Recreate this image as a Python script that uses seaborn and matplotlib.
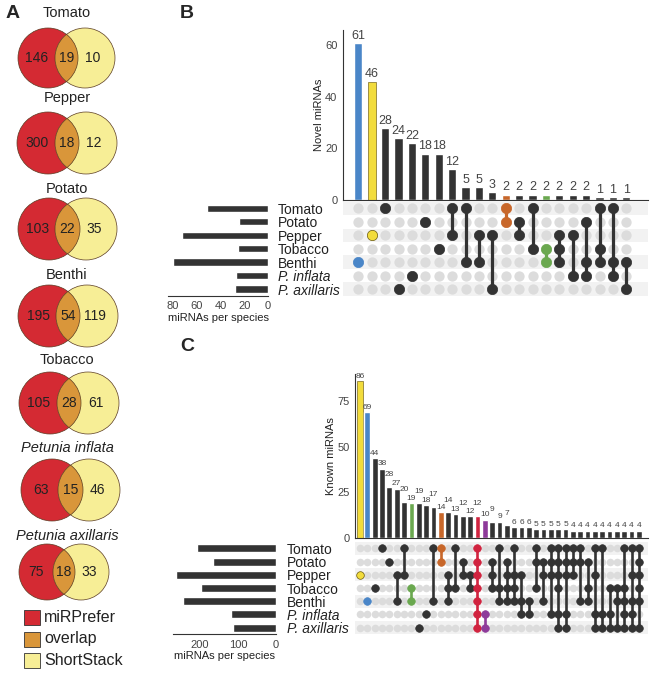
import numpy as np
import pandas as pd
import matplotlib
matplotlib.use("Agg")
import matplotlib.pyplot as plt
import seaborn as sns
from matplotlib.patches import Ellipse, Rectangle

sns.set_style("white")
plt.rcParams["font.family"] = ["Liberation Sans", "DejaVu Sans"]

W, H = 650, 674
DARK = "#333333"
TXT = "#222222"
RED = "#d42a33"
ORANGE = "#d9963a"
YELLOW = "#f7ee96"
EDGE = "#5a3b22"
INACTIVE = "#dcdcdc"
BAND = "#f2f2f2"
C_BLUE = "#4a86c8"
C_YEL = "#f2dc3c"
C_ORA = "#c8672a"
C_GRN = "#6aa84f"
C_RED = "#d1233f"
C_PUR = "#8e3a9a"

# ---- panel A data ----
venn_species = ["Tomato", "Pepper", "Potato", "Benthi", "Tobacco",
                "Petunia inflata", "Petunia axillaris"]
venn_mirprefer = [146, 300, 103, 195, 105, 63, 75]
venn_overlap = [19, 18, 22, 54, 28, 15, 18]
venn_shortstack = [10, 12, 35, 119, 61, 46, 33]
legend_labels = ["miRPrefer", "overlap", "ShortStack"]

# ---- upset data (rows) ----
species = ["Tomato", "Potato", "Pepper", "Tobacco", "Benthi",
           "P. inflata", "P. axillaris"]

# panel B: novel miRNAs
novel_counts = [61, 46, 28, 24, 22, 18, 18, 12, 5, 5, 3, 2, 2, 2, 2, 2, 2, 2, 1, 1, 1]
novel_sets = [[4], [2], [0], [6], [5], [1], [3], [0, 2], [0, 4], [2, 4], [2, 6],
              [0, 1], [1, 2], [0, 3], [3, 4], [2, 3, 4], [2, 5], [1, 4, 5],
              [0, 3, 4], [0, 4, 5], [4, 6]]
novel_colors = {0: C_BLUE, 1: C_YEL, 11: C_ORA, 14: C_GRN}
novel_per_species = [51, 24, 72, 25, 80, 27, 28]

# panel C: known miRNAs
known_counts = [86, 69, 44, 38, 28, 27, 20, 19, 19, 18, 17, 14, 14, 13, 12, 12, 12,
                10, 9, 9, 7, 6, 6, 6, 5, 5, 5, 5, 5, 4, 4, 4, 4, 4, 4, 4, 4, 4, 4]
known_sets = [[2], [4], [3], [0], [1], [2, 4], [0, 2], [3, 4], [6], [5], [0, 4],
              [0, 1], [2, 3, 4], [0, 3], [1, 2], [2, 3], [0, 1, 2, 3, 4, 5, 6], [5, 6],
              [1, 2, 3], [0, 3, 4], [1, 2, 3, 4], [0, 2, 3, 4], [2, 4, 5], [4, 5],
              [0, 1, 3], [1, 2, 4], [0, 1, 2, 5], [0, 1, 2, 3, 5, 6],
              [0, 1, 2, 5, 6], [0, 1, 2], [0, 1, 4], [1, 3, 4],
              [0, 2, 5, 6], [0, 5, 6], [3, 5, 6], [3, 4, 6],
              [0, 3, 4, 5, 6], [0, 2, 4, 5, 6], [0, 1, 2, 3, 4, 6]]
known_colors = {0: C_YEL, 1: C_BLUE, 7: C_GRN, 11: C_ORA, 16: C_RED, 17: C_PUR}
known_per_species = [209, 167, 262, 198, 246, 118, 114]


def px_axes(fig, x0, y0, w, h):
    return fig.add_axes([x0 / W, 1 - (y0 + h) / H, w / W, h / H])


def draw_bars(ax, counts, colors, width, fs, ymax, ticks, ylabel, lift=None):
    df = pd.DataFrame({"col": [str(i) for i in range(len(counts))], "n": counts})
    sns.barplot(data=df, x="col", y="n", color=DARK, saturation=1, width=width, ax=ax)
    for i, p in enumerate(ax.patches):
        c = colors.get(i, DARK)
        p.set_facecolor(c)
        if c == C_YEL:
            p.set_edgecolor("#7a6a20")
            p.set_linewidth(0.5)
    for i, v in enumerate(counts):
        up = ymax * 0.008
        if lift is not None and lift(i):
            up += ymax * 0.045
        ax.text(i, v + up, str(v), ha="center", va="bottom",
                fontsize=fs, color="#444444")
    ax.set_ylim(0, ymax)
    ax.set_yticks(ticks)
    ax.set_xticks([])
    ax.set_xlabel("")
    ax.set_ylabel(ylabel, fontsize=8, color=TXT, labelpad=1)
    ax.tick_params(axis="y", labelsize=8, colors="#444444", length=3, pad=1)
    sns.despine(ax=ax, top=True, right=True)
    for s in ["left", "bottom"]:
        ax.spines[s].set_color(DARK)
        ax.spines[s].set_linewidth(0.8)


def draw_matrix(ax, sets, colors, size, lw):
    ncol = len(sets)
    nrow = len(species)
    for r in range(0, nrow, 2):
        ax.axhspan(r - 0.5, r + 0.5, color=BAND, zorder=0, lw=0)
    xx, yy = np.meshgrid(np.arange(ncol), np.arange(nrow))
    ax.scatter(xx.ravel(), yy.ravel(), s=size, color=INACTIVE, lw=0, zorder=1)
    for j, rows in enumerate(sets):
        c = colors.get(j, DARK)
        if len(rows) > 1:
            ax.vlines(j, min(rows), max(rows), color=c, lw=lw, zorder=2)
        ec = "#6a5a10" if c == C_YEL else c
        ax.scatter([j] * len(rows), rows, s=size, color=c, edgecolors=ec,
                   linewidths=0.5, zorder=3)
    ax.set_ylim(nrow - 0.5, -0.5)
    ax.axis("off")


def draw_species_bars(ax, totals, xmax, ticks, label_pad, height):
    df = pd.DataFrame({"sp": species, "n": totals})
    sns.barplot(data=df, x="n", y="sp", orient="h", color=DARK, saturation=1,
                width=height, ax=ax)
    ax.set_xlim(xmax, 0)
    ax.set_ylim(len(species) - 0.5, -0.5)
    ax.set_xticks(ticks)
    ax.set_ylabel("")
    ax.set_xlabel("miRNAs per species", fontsize=8, color=TXT, labelpad=1)
    ax.yaxis.tick_right()
    ax.tick_params(axis="y", length=0, pad=label_pad, labelsize=10, labelcolor=TXT)
    ax.tick_params(axis="x", labelsize=8, colors="#444444", length=3, pad=1)
    for lab in ax.get_yticklabels():
        if lab.get_text().startswith("P. "):
            lab.set_style("italic")
    for s in ["top", "right", "left"]:
        ax.spines[s].set_visible(False)
    ax.spines["bottom"].set_color(DARK)
    ax.spines["bottom"].set_linewidth(0.8)


fig = plt.figure(figsize=(W / 100, H / 100), dpi=100)

# ---------------- panel A ----------------
axA = px_axes(fig, 0, 0, 160, H)
axA.set_xlim(0, 160)
axA.set_ylim(H, 0)
axA.axis("off")
centers_y = [58, 143, 229, 316, 403, 490, 572]
titles_y = [13, 98, 189, 275, 360, 448, 536]
radii = [30, 31, 31, 31, 31, 31, 28]
red_x = [48, 48, 49, 49, 50, 52, 47]
yel_x = [85, 86, 86, 87, 88, 89, 81]
for i, name in enumerate(venn_species):
    cy, r = centers_y[i], radii[i]
    red = Ellipse((red_x[i], cy), 2 * r, 2 * r, fc=RED, ec="none")
    yel = Ellipse((yel_x[i], cy), 2 * r, 2 * r, fc=YELLOW, ec="none")
    axA.add_patch(red)
    axA.add_patch(yel)
    ov = Ellipse((yel_x[i], cy), 2 * r, 2 * r, fc=ORANGE, ec="none")
    axA.add_patch(ov)
    ov.set_clip_path(red)
    for cx in (red_x[i], yel_x[i]):
        axA.add_patch(Ellipse((cx, cy), 2 * r, 2 * r, fill=False, ec=EDGE, lw=0.5))
    mid = (red_x[i] + r + yel_x[i] - r) / 2
    axA.text(red_x[i] - 11, cy, str(venn_mirprefer[i]), ha="center", va="center",
             fontsize=10, color=TXT)
    axA.text(mid, cy, str(venn_overlap[i]), ha="center", va="center",
             fontsize=10, color=TXT)
    axA.text(yel_x[i] + 8, cy, str(venn_shortstack[i]), ha="center", va="center",
             fontsize=10, color=TXT)
    style = "italic" if name.startswith("Petunia") else "normal"
    axA.text(67, titles_y[i], name, ha="center", va="center", fontsize=10.5,
             style=style, color=TXT)

for k, (lab, col) in enumerate(zip(legend_labels, [RED, ORANGE, YELLOW])):
    y = 610 + 21.5 * k
    axA.add_patch(Rectangle((24, y), 16, 15, fc=col, ec=DARK, lw=0.6))
    axA.text(44, y + 7.5, lab, ha="left", va="center", fontsize=11.5, color=TXT)

fig.text(6 / W, 1 - 13 / H, "A", fontsize=14, fontweight="bold", va="center")
fig.text(180 / W, 1 - 13 / H, "B", fontsize=14, fontweight="bold", va="center")
fig.text(180 / W, 1 - 347 / H, "C", fontsize=14, fontweight="bold", va="center")

# ---------------- panel B ----------------
bx0, bstep = 358.3, 13.4
b_left, b_right = 343, 648
b_xlim = ((b_left - bx0) / bstep, (b_right - bx0) / bstep)

axB = px_axes(fig, b_left, 30, b_right - b_left, 170)
draw_bars(axB, novel_counts, novel_colors, 0.62, 9, 66, [0, 20, 40, 60], "Novel miRNAs")
axB.set_xlim(*b_xlim)

axBm = px_axes(fig, b_left, 201.6, b_right - b_left, 94.2)
draw_matrix(axBm, novel_sets, novel_colors, 55, 2.3)
axBm.set_xlim(*b_xlim)

axBl = px_axes(fig, 168, 201.6, 100, 94.2)
draw_species_bars(axBl, novel_per_species, 84, [80, 60, 40, 20, 0], 7, 0.55)

# ---------------- panel C ----------------
cx0, cstep = 360, 7.34
c_left, c_right = 355, 648
c_xlim = ((c_left - cx0) / cstep, (c_right - cx0) / cstep)

axC = px_axes(fig, c_left, 374, c_right - c_left, 164)
draw_bars(axC, known_counts, known_colors, 0.78, 6, 90, [0, 25, 50, 75],
          "Known miRNAs", lift=lambda i: 4 <= i <= 20 and i % 2 == 0)
axC.set_xlim(*c_xlim)

axCm = px_axes(fig, c_left, 541.7, c_right - c_left, 92.6)
draw_matrix(axCm, known_sets, known_colors, 30, 1.9)
axCm.set_xlim(*c_xlim)

axCl = px_axes(fig, 173, 541.7, 103, 92.6)
draw_species_bars(axCl, known_per_species, 271, [200, 100, 0], 8, 0.6)

fig.savefig("out.png", dpi=100)
